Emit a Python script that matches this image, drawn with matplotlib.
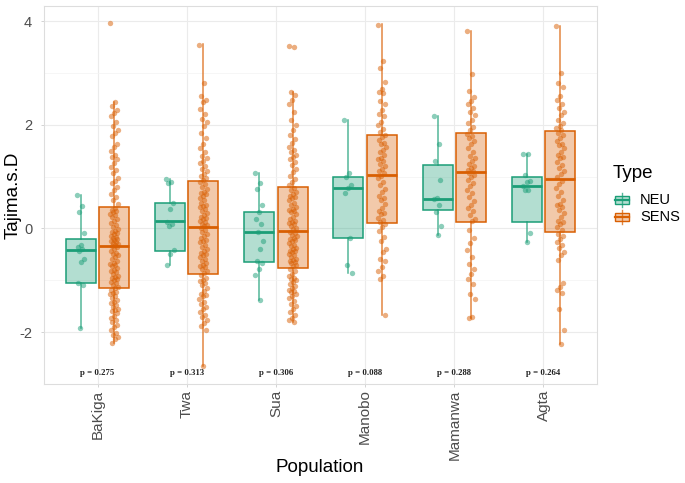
import numpy as np
import matplotlib
matplotlib.use('Agg')
import matplotlib.pyplot as plt
from matplotlib.patches import Rectangle

plt.rcParams['font.family'] = ['Liberation Sans', 'DejaVu Sans']
plt.rcParams['axes.unicode_minus'] = False

COLOUR_NEU = '#1B9E77'
COLOUR_SENS = '#D95F02'

populations = ['BaKiga', 'Twa', 'Sua', 'Manobo', 'Mamanwa', 'Agta']
p_labels = ['p = 0.275', 'p = 0.313', 'p = 0.306', 'p = 0.088', 'p = 0.288', 'p = 0.264']

# box statistics: q1, median, q3, lower whisker, upper whisker
neu_q1 = [-1.06, -0.43, -0.64, -0.19, 0.35, 0.12]
neu_med = [-0.42, 0.15, -0.07, 0.78, 0.56, 0.81]
neu_q3 = [-0.20, 0.49, 0.31, 0.99, 1.22, 1.00]
neu_lo = [-1.92, -0.71, -1.38, -0.85, -0.13, -0.26]
neu_hi = [0.65, 0.96, 1.07, 2.10, 2.16, 1.44]

sens_q1 = [-1.15, -0.88, -0.77, 0.11, 0.13, -0.06]
sens_med = [-0.34, 0.03, -0.04, 1.04, 1.09, 0.96]
sens_q3 = [0.42, 0.91, 0.80, 1.81, 1.85, 1.87]
sens_lo = [-2.20, -2.65, -1.81, -1.67, -1.72, -2.22]
sens_hi = [2.43, 3.55, 2.64, 3.94, 3.81, 3.91]

# individual Tajima's D values (jittered points)
neu_bakiga = [0.64, 0.43, 0.32, -0.08, -0.31, -0.35, -0.40, -0.44, -0.58, -0.64, -1.06, -1.09, -1.92]
neu_twa = [0.96, 0.90, 0.87, 0.49, 0.38, 0.13, 0.08, 0.05, -0.41, -0.49, -0.71]
neu_sua = [1.07, 0.88, 0.76, 0.46, 0.31, 0.19, 0.08, -0.06, -0.24, -0.40, -0.63, -0.66, -0.78, -0.90, -1.38]
neu_manobo = [2.10, 1.06, 1.00, 0.83, 0.78, 0.69, -0.18, -0.71, -0.85]
neu_mamanwa = [2.16, 1.63, 1.31, 0.94, 0.59, 0.56, 0.45, 0.32, 0.04, -0.13]
neu_agta = [1.44, 1.43, 1.03, 0.91, 0.89, 0.81, 0.75, 0.74, -0.08, -0.26]

sens_bakiga = [3.97, 2.43, 2.36, 2.28, 2.22, 2.17, 2.05, 1.98, 1.90, 1.85, 1.79, 1.63, 1.58, 1.50,
               1.42, 1.38, 1.33, 1.27, 1.19, 1.12, 1.06, 0.98, 0.92, 0.87, 0.80, 0.74, 0.67, 0.60,
               0.55, 0.48, 0.40, 0.36, 0.33, 0.31, 0.27, 0.25, 0.22, 0.18, 0.14, 0.10, 0.07, 0.03,
               -0.01, -0.04, -0.06, -0.08, -0.11, -0.14, -0.17, -0.19, -0.20, -0.22, -0.25, -0.27,
               -0.29, -0.30, -0.31, -0.33, -0.36, -0.40, -0.43, -0.47, -0.49, -0.51, -0.55, -0.58,
               -0.62, -0.66, -0.68, -0.70, -0.73, -0.77, -0.80, -0.82, -0.84, -0.87, -0.91, -0.94,
               -0.95, -0.97, -1.00, -1.03, -1.06, -1.09, -1.12, -1.14, -1.18, -1.22, -1.24, -1.26,
               -1.30, -1.34, -1.38, -1.41, -1.43, -1.47, -1.51, -1.55, -1.58, -1.60, -1.64, -1.68,
               -1.72, -1.76, -1.81, -1.86, -1.90, -1.95, -2.01, -2.06, -2.10, -2.14, -2.20]
sens_twa = [3.54, 2.80, 2.55, 2.48, 2.44, 2.30, 2.21, 2.12, 2.05, 1.97, 1.85, 1.74, 1.62, 1.55,
            1.48, 1.40, 1.35, 1.30, 1.26, 1.21, 1.15, 1.10, 1.05, 1.01, 0.97, 0.93, 0.89, 0.85,
            0.80, 0.76, 0.71, 0.69, 0.67, 0.62, 0.58, 0.54, 0.50, 0.46, 0.44, 0.42, 0.38, 0.34,
            0.30, 0.26, 0.22, 0.21, 0.19, 0.15, 0.12, 0.09, 0.06, 0.04, 0.01, -0.03, -0.07,
            -0.11, -0.15, -0.19, -0.23, -0.25, -0.27, -0.31, -0.35, -0.39, -0.43, -0.47, -0.50,
            -0.51, -0.55, -0.59, -0.63, -0.67, -0.71, -0.72, -0.75, -0.79, -0.83, -0.86, -0.90,
            -0.95, -1.00, -1.02, -1.05, -1.10, -1.15, -1.20, -1.26, -1.28, -1.31, -1.36, -1.41,
            -1.46, -1.51, -1.56, -1.61, -1.66, -1.70, -1.76, -1.82, -1.88, -1.96, -2.65]
sens_sua = [3.52, 3.50, 2.64, 2.57, 2.48, 2.40, 2.25, 2.10, 2.00, 1.90, 1.80, 1.72, 1.65, 1.58,
            1.52, 1.47, 1.42, 1.38, 1.33, 1.28, 1.22, 1.15, 1.08, 1.02, 0.95, 0.89, 0.84, 0.78,
            0.74, 0.70, 0.66, 0.62, 0.60, 0.58, 0.54, 0.50, 0.46, 0.42, 0.38, 0.36, 0.34, 0.31,
            0.27, 0.23, 0.19, 0.15, 0.12, 0.10, 0.08, 0.05, 0.01, -0.02, -0.06, -0.09, -0.12,
            -0.15, -0.19, -0.20, -0.22, -0.25, -0.28, -0.31, -0.34, -0.37, -0.40, -0.43, -0.44,
            -0.46, -0.49, -0.52, -0.55, -0.58, -0.61, -0.62, -0.64, -0.67, -0.70, -0.73, -0.79,
            -0.83, -0.87, -0.91, -0.95, -0.97, -0.99, -1.03, -1.07, -1.11, -1.15, -1.19, -1.20,
            -1.23, -1.27, -1.31, -1.35, -1.40, -1.45, -1.50, -1.55, -1.61, -1.67, -1.72, -1.77, -1.81]
sens_manobo = [3.93, 3.22, 3.09, 2.83, 2.68, 2.64, 2.61, 2.45, 2.40, 2.29, 2.20, 2.16, 2.05, 1.99,
               1.92, 1.86, 1.80, 1.76, 1.70, 1.65, 1.62, 1.58, 1.52, 1.48, 1.42, 1.36, 1.33, 1.30,
               1.25, 1.20, 1.15, 1.10, 1.06, 1.02, 0.97, 0.90, 0.84, 0.77, 0.70, 0.62, 0.58, 0.55,
               0.48, 0.40, 0.33, 0.30, 0.27, 0.21, 0.16, 0.12, 0.08, 0.03, -0.05, -0.17, -0.24,
               -0.39, -0.45, -0.58, -0.62, -0.75, -0.83, -0.91, -0.98, -1.67]
sens_mamanwa = [3.81, 2.98, 2.66, 2.53, 2.46, 2.40, 2.33, 2.25, 2.18, 2.10, 2.03, 1.96, 1.90, 1.83,
                1.78, 1.74, 1.68, 1.62, 1.55, 1.48, 1.40, 1.35, 1.30, 1.25, 1.21, 1.17, 1.13, 1.10,
                1.07, 1.03, 0.99, 0.94, 0.88, 0.82, 0.75, 0.68, 0.60, 0.52, 0.46, 0.40, 0.33, 0.26,
                0.19, 0.14, -0.03, -0.19, -0.29, -0.42, -0.55, -0.68, -0.78, -0.87, -0.97, -1.07,
                -1.27, -1.36, -1.70, -1.72]
sens_agta = [3.91, 3.00, 2.80, 2.72, 2.55, 2.48, 2.40, 2.33, 2.25, 2.18, 2.10, 2.04, 1.98, 1.93,
             1.89, 1.85, 1.80, 1.74, 1.68, 1.62, 1.60, 1.55, 1.48, 1.42, 1.38, 1.35, 1.28, 1.22,
             1.16, 1.10, 1.05, 1.00, 0.92, 0.85, 0.78, 0.70, 0.62, 0.55, 0.48, 0.45, 0.42, 0.36,
             0.30, 0.22, 0.15, 0.12, 0.08, 0.02, -0.03, -0.10, -0.15, -0.20, -0.26, -0.32, -0.38,
             -0.45, -0.52, -0.60, -1.05, -1.12, -1.18, -1.25, -1.55, -1.95, -2.22]

neu_points = [neu_bakiga, neu_twa, neu_sua, neu_manobo, neu_mamanwa, neu_agta]
sens_points = [sens_bakiga, sens_twa, sens_sua, sens_manobo, sens_mamanwa, sens_agta]


def box_stats(q1, med, q3, lo, hi):
    return [dict(q1=a, med=b, q3=c, whislo=d, whishi=e, fliers=[])
            for a, b, c, d, e in zip(q1, med, q3, lo, hi)]


def jitter(n, width):
    # deterministic spread of points around the box centre
    return np.array([((i * 0.6180339) % 1.0 - 0.5) * 2 * width for i in range(n)])


W, H = 685, 483
fig = plt.figure(figsize=(W / 100, H / 100), dpi=100)
ax = fig.add_axes([44 / W, 1 - 384 / H, (597 - 44) / W, (384 - 6) / H])

x = np.arange(1, len(populations) + 1)
dodge = 0.1875
bw = 0.3375

for stats, pos, colour in [
    (box_stats(neu_q1, neu_med, neu_q3, neu_lo, neu_hi), x - dodge, COLOUR_NEU),
    (box_stats(sens_q1, sens_med, sens_q3, sens_lo, sens_hi), x + dodge, COLOUR_SENS),
]:
    ax.bxp(stats, positions=pos, widths=bw, showcaps=False, showfliers=False,
           patch_artist=True,
           boxprops=dict(facecolor=colour + '55', edgecolor=colour, linewidth=1.1),
           whiskerprops=dict(color=colour, linewidth=1.1, alpha=0.75),
           medianprops=dict(color=colour, linewidth=2.0),
           zorder=2)

for i in range(len(populations)):
    for vals, offset, colour in [(neu_points[i], -dodge, COLOUR_NEU),
                                 (sens_points[i], dodge, COLOUR_SENS)]:
        xs = x[i] + offset + jitter(len(vals), 0.045)
        ax.scatter(xs, vals, s=15, color=colour, alpha=0.5, linewidths=0, zorder=3)
    ax.text(x[i], -2.78, p_labels[i], ha='center', va='center', fontsize=6.3,
            family='Liberation Serif', fontweight='bold', color='#222222')

ax.set_xlim(0.4, 6.6)
ax.set_ylim(-2.98, 4.29)
ax.set_yticks([-2, 0, 2, 4])
ax.set_yticks([-3, -1, 1, 3], minor=True)
ax.set_xticks(x)
ax.set_xticklabels(populations, rotation=90, fontsize=11, color='#4D4D4D')
ax.tick_params(axis='y', labelsize=10.5, labelcolor='#4D4D4D', pad=6)
ax.tick_params(axis='x', pad=1.5)
ax.tick_params(axis='both', which='major', length=2.5, width=0.6, color='#CCCCCC')
ax.tick_params(axis='both', which='minor', length=0)
ax.grid(True, which='major', color='#EBEBEB', linewidth=0.8, zorder=0)
ax.grid(True, which='minor', axis='y', color='#F3F3F3', linewidth=0.5, zorder=0)
ax.set_axisbelow(True)
for side in ax.spines.values():
    side.set_color('#DDDDDD')
    side.set_linewidth(0.8)

ax.set_xlabel('Population', fontsize=13.5)
ax.set_ylabel('Tajima.s.D', fontsize=13.5)
ax.xaxis.set_label_coords((320 - 44) / 553, (384 - 468) / 378)
ax.yaxis.set_label_coords((13 - 44) / 553, 0.5)
ax.xaxis.label.set_va('center')
ax.yaxis.label.set_va('center')

# legend drawn by hand to mimic the boxplot key glyphs
leg = fig.add_axes([0, 0, 1, 1])
leg.set_xlim(0, W)
leg.set_ylim(H, 0)
leg.axis('off')
leg.text(613, 174, 'Type', fontsize=13.5, ha='left', va='center')
for yc, label, colour in [(200, 'NEU', COLOUR_NEU), (217, 'SENS', COLOUR_SENS)]:
    leg.plot([622.5, 622.5], [yc - 7, yc + 7], color=colour, lw=1.0, alpha=0.75)
    leg.add_patch(Rectangle((615.5, yc - 4), 14, 8, facecolor=colour + '55',
                            edgecolor=colour, lw=1.0))
    leg.plot([615.5, 629.5], [yc, yc], color=colour, lw=1.6)
    leg.text(640, yc, label, fontsize=10.5, ha='left', va='center')

fig.savefig('out.png', dpi=100)
